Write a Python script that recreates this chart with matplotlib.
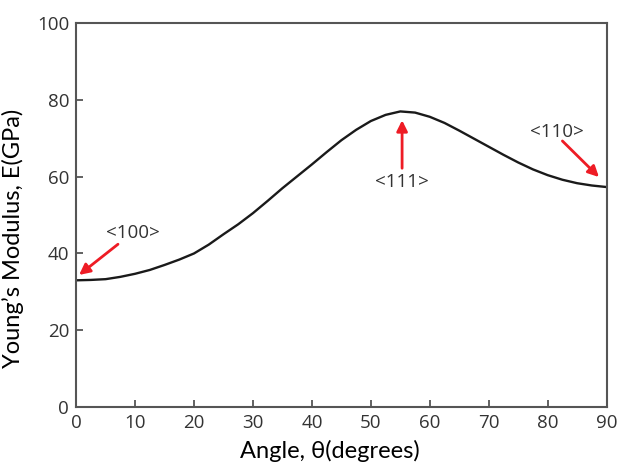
import matplotlib.pyplot as plt
import numpy as np

# angle (degrees) vs Young's modulus (GPa)
angle = [0, 2.5, 5, 7.5, 10, 12.5, 15, 17.5, 20, 22.5, 25, 27.5, 30, 32.5, 35, 37.5, 40, 42.5, 45,
         47.5, 50, 52.5, 55, 57.5, 60, 62.5, 65, 67.5, 70, 72.5, 75, 77.5, 80, 82.5, 85, 87.5, 90]
modulus = [33.0, 33.1, 33.3, 33.9, 34.7, 35.7, 37.0, 38.4, 40.0, 42.3, 45.0, 47.6, 50.5, 53.7, 57.0,
           60.1, 63.2, 66.4, 69.5, 72.2, 74.5, 76.1, 77.0, 76.7, 75.6, 74.0, 72.0, 69.9, 67.8, 65.7,
           63.7, 61.9, 60.4, 59.2, 58.3, 57.7, 57.3]

labels = ['<100>', '<111>', '<110>']
label_xy = [(9.6, 45.3), (55.3, 58.6), (81.5, 71.6)]
arrow_tail = [(7.1, 42.4), (55.3, 62.2), (82.5, 69.3)]
arrow_head = [(0.5, 34.4), (55.3, 74.7), (88.7, 59.9)]

red = '#ee1c25'
gray = '#555555'

fig = plt.figure(figsize=(6.19, 4.63), dpi=100)
ax = fig.add_axes([0.123, 0.121, 0.857, 0.829])

ax.plot(angle, modulus, color='#1a1a1a', lw=1.7)

for lab, xy, tail, head in zip(labels, label_xy, arrow_tail, arrow_head):
    ax.text(xy[0], xy[1], lab, ha='center', va='center', fontsize=13.5,
            color='#333333', family='Open Sans')
    ax.annotate('', xy=head, xytext=tail,
                arrowprops=dict(arrowstyle='-|>', color=red, lw=2,
                                mutation_scale=16, shrinkA=0, shrinkB=0))

ax.set_xlim(0, 90)
ax.set_ylim(0, 100)
ax.set_xticks(range(0, 91, 10))
ax.set_yticks(range(0, 101, 20))
ax.tick_params(direction='in', length=5, width=1.3, color=gray,
               labelsize=13.5, labelcolor='#333333', pad=5)
for lab in ax.get_xticklabels() + ax.get_yticklabels():
    lab.set_family('Open Sans')
for s in ax.spines.values():
    s.set_color(gray)
    s.set_linewidth(1.5)

ax.set_xlabel('Angle, θ(degrees)', fontsize=17, family='Lato')
ax.set_ylabel('Young\u2019s Modulus, E(GPa)', fontsize=17, family='Lato')
ax.xaxis.set_label_coords(0.478, -0.085)
ax.yaxis.set_label_coords(-0.098, 0.44)

fig.savefig('out.png', dpi=100)
